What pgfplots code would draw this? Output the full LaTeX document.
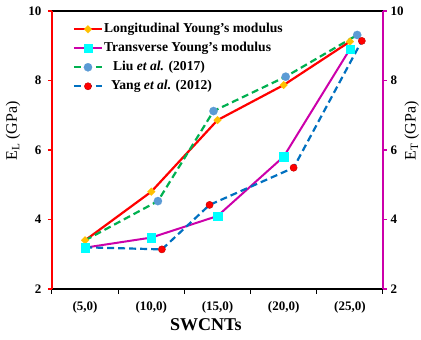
\documentclass[border=0pt]{standalone}
\usepackage{fontspec}
\setmainfont{Liberation Serif}
\usepackage{pgfplots}
\pgfplotsset{compat=1.18}
\definecolor{cRed}{RGB}{255,0,0}
\definecolor{cOrange}{RGB}{255,192,0}
\definecolor{cMag}{RGB}{204,0,170}
\definecolor{cCyan}{RGB}{0,255,255}
\definecolor{cGreen}{RGB}{0,176,80}
\definecolor{cSteel}{RGB}{91,155,213}
\definecolor{cBlue}{RGB}{0,112,192}
\definecolor{cDarkRed}{RGB}{192,0,0}
\begin{document}
\begin{tikzpicture}
\begin{axis}[
  at={(0pt,0pt)}, anchor=south west,
  scale only axis, width=331pt, height=278pt,
  xmin=-0.5, xmax=4.5, ymin=2, ymax=10,
  axis x line*=box, axis y line*=left,
  xtick={0,1,2,3,4}, xticklabels={(5,0),(10,0),(15,0),(20,0),(25,0)},
  minor xtick={-0.5,0.5,1.5,2.5,3.5,4.5},
  xtick pos=left, ytick pos=left,
  major x tick style={draw=none},
  minor x tick style={black, line width=1pt},
  minor tick length=5pt, major tick length=4pt,
  ytick={2,4,6,8,10},
  y tick style={cRed, line width=1.5pt},
  tick align=outside,
  y axis line style={cRed, line width=2.5pt},
  x axis line style={black, line width=1.3pt},
  ticklabel style={font=\bfseries\fontsize{13}{13}\selectfont},
  xticklabel style={yshift=-5pt},
  yticklabel style={xshift=-3pt},
  /pgf/number format/assume math mode=true,
  ylabel={E\textsubscript{L} (GPa)},
  ylabel style={at={(axis description cs:-0.118,0.568)}, anchor=center, font=\fontsize{16}{16}\selectfont},
  xlabel={SWCNTs},
  xlabel style={at={(axis description cs:0.465,-0.1295)}, anchor=center, font=\bfseries\fontsize{18}{18}\selectfont},
  legend style={draw=none, fill=none, at={(0.0625,0.962)}, anchor=north west, inner sep=0pt,
    font=\bfseries\fontsize{13.6}{13.6}\selectfont, row sep=4pt,
    nodes={inner sep=1pt, text height=10pt, text depth=3pt}},
  legend cell align=left,
  legend image code/.code={\draw[#1, mark repeat=2, mark phase=2] plot coordinates {(0pt,0pt)(14pt,0pt)(28pt,0pt)};},
  clip=false,
]
\addplot[cRed, line width=2.2pt, mark=square*, mark size=2.8pt,
  mark options={fill=cOrange, draw=cOrange, rotate=45, solid, line width=0.1pt}]
  coordinates {(0,3.40) (1,4.80) (2,6.86) (3,7.87) (4,9.12)};
\addlegendentry{Longitudinal Young's modulus}
\addplot[cMag, line width=2pt, mark=square*, mark size=4.2pt,
  mark options={fill=cCyan, draw=cCyan, solid, line width=0.1pt}]
  coordinates {(0,3.19) (1,3.48) (2,4.10) (3,5.81) (4,8.90)};
\addlegendentry{Transverse Young's modulus}
\addplot[cGreen, line width=2.2pt, dash pattern=on 7pt off 4pt, mark=*, mark size=4.2pt, mark phase=2,
  mark options={fill=cSteel, draw=cSteel, solid, line width=0.1pt}]
  coordinates {(0,3.40) (1.10,4.53) (1.94,7.12) (3.03,8.11) (4.11,9.31)};
\addlegendentry{\hspace*{9pt}Liu \textit{et al.} (2017)}
\addplot[cBlue, line width=2.2pt, dash pattern=on 7pt off 4pt, mark=*, mark size=3.6pt, mark phase=2,
  mark options={fill=cRed, draw=cDarkRed, solid, line width=0.4pt}]
  coordinates {(0,3.20) (1.16,3.14) (1.88,4.42) (3.15,5.49) (4.18,9.14)};
\addlegendentry{\hspace*{7pt}Yang \textit{et al.} (2012)}
\end{axis}
\begin{axis}[
  at={(0pt,0pt)}, anchor=south west,
  scale only axis, width=331pt, height=278pt,
  xmin=-0.5, xmax=4.5, ymin=2, ymax=10,
  axis x line=none, axis y line*=right,
  ytick={2,4,6,8,10}, ytick pos=right,
  y tick style={cMag, line width=1.5pt}, major tick length=4pt,
  tick align=outside,
  y axis line style={cMag, line width=2pt},
  ticklabel style={font=\bfseries\fontsize{13}{13}\selectfont},
  /pgf/number format/assume math mode=true,
  ylabel={E\textsubscript{T} (GPa)},
  ylabel style={at={(axis description cs:1.0866,0.568)}, anchor=center, font=\fontsize{16}{16}\selectfont},
]
\end{axis}
\pgfresetboundingbox
\path[use as bounding box] (-52pt,-51pt) rectangle (369pt,289pt);
\end{tikzpicture}
\end{document}
